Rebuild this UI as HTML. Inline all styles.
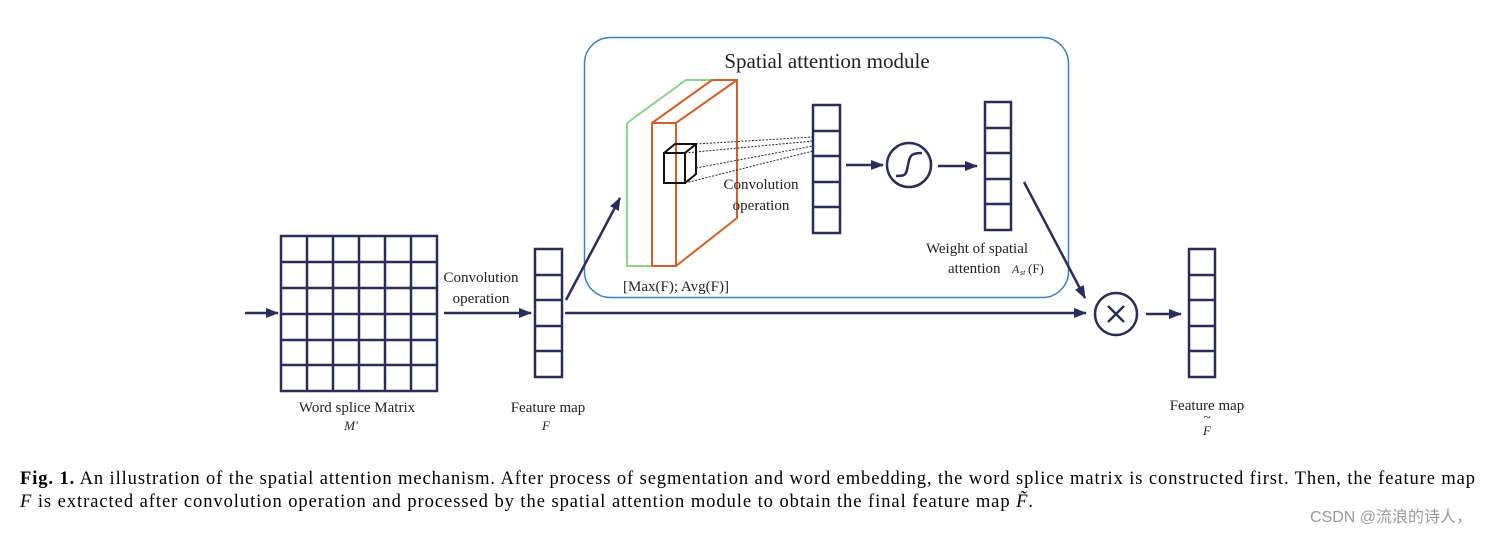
<!DOCTYPE html>
<html><head><meta charset="utf-8"><style>
html,body{margin:0;padding:0;background:#fff;width:1510px;height:536px;overflow:hidden}
svg{display:block}
</style></head><body>
<svg width="1510" height="536" viewBox="0 0 1510 536" xmlns="http://www.w3.org/2000/svg">
<defs>
<marker id="ah" markerWidth="13" markerHeight="10" refX="12" refY="5" orient="auto" markerUnits="userSpaceOnUse">
<path d="M0,0 L13,5 L0,10 z" fill="#2a2d5a"/></marker>
</defs>
<g font-family="Liberation Serif, serif" fill="#222">
<rect x="584.5" y="37.5" width="484" height="260" rx="26" fill="none" stroke="#3a7fc0" stroke-width="1.5"/>
<text x="827" y="68" font-size="21" text-anchor="middle">Spatial attention module</text>

<g stroke="#2a2d5a" stroke-width="2.5" fill="none">
<rect x="281" y="236" width="156" height="155"/>
<line x1="307" y1="236" x2="307" y2="391"/><line x1="333" y1="236" x2="333" y2="391"/><line x1="359" y1="236" x2="359" y2="391"/><line x1="385" y1="236" x2="385" y2="391"/><line x1="411" y1="236" x2="411" y2="391"/>
<line x1="281" y1="262" x2="437" y2="262"/><line x1="281" y1="288" x2="437" y2="288"/><line x1="281" y1="314" x2="437" y2="314"/><line x1="281" y1="340" x2="437" y2="340"/><line x1="281" y1="365" x2="437" y2="365"/>
<rect x="535" y="249" width="27" height="128"/>
<line x1="535" y1="275" x2="562" y2="275"/><line x1="535" y1="300" x2="562" y2="300"/><line x1="535" y1="326" x2="562" y2="326"/><line x1="535" y1="351" x2="562" y2="351"/>
<rect x="813" y="105" width="27" height="128"/>
<line x1="813" y1="131" x2="840" y2="131"/><line x1="813" y1="156" x2="840" y2="156"/><line x1="813" y1="182" x2="840" y2="182"/><line x1="813" y1="207" x2="840" y2="207"/>
<rect x="985" y="102" width="26" height="128"/>
<line x1="985" y1="128" x2="1011" y2="128"/><line x1="985" y1="153" x2="1011" y2="153"/><line x1="985" y1="179" x2="1011" y2="179"/><line x1="985" y1="204" x2="1011" y2="204"/>
<rect x="1189" y="249" width="26" height="128"/>
<line x1="1189" y1="275" x2="1215" y2="275"/><line x1="1189" y1="300" x2="1215" y2="300"/><line x1="1189" y1="326" x2="1215" y2="326"/><line x1="1189" y1="351" x2="1215" y2="351"/>

<line x1="245" y1="313" x2="278" y2="313" marker-end="url(#ah)"/>
<line x1="444" y1="313" x2="531" y2="313" marker-end="url(#ah)"/>
<line x1="565" y1="313" x2="1086" y2="313" marker-end="url(#ah)"/>
<line x1="566" y1="300" x2="620" y2="198" marker-end="url(#ah)"/>
<line x1="846" y1="165" x2="883" y2="165" marker-end="url(#ah)"/>
<line x1="938" y1="166" x2="977" y2="166" marker-end="url(#ah)"/>
<line x1="1024" y1="182" x2="1085" y2="298" marker-end="url(#ah)"/>
<line x1="1146" y1="314" x2="1181" y2="314" marker-end="url(#ah)"/>
<circle cx="909" cy="165" r="22"/>
<path d="M896,176 C906,176 906,175 908,165 C910,155 911,153 922,153"/>
<circle cx="1116" cy="314" r="21"/>
<line x1="1108" y1="306" x2="1124" y2="322"/><line x1="1124" y1="306" x2="1108" y2="322"/>
</g>

<g fill="none" stroke-width="2">
<path d="M627,123 L686,80 L712,80 M627,123 L627,266 L651,266" stroke="#8fd08a"/>
<path d="M652,123 L712,80 L737,80 L737,218 L676,266 L652,266 Z M652,123 L676,123 L737,80 M676,123 L676,266" stroke="#d0602a"/>
</g>
<g fill="none" stroke="#111" stroke-width="2">
<rect x="664" y="153" width="21" height="30"/>
<path d="M664,153 L675,144 L696,144 L696,174 L685,183 M685,153 L696,144"/>
</g>
<g stroke="#222" stroke-width="1" stroke-dasharray="2,1.5" fill="none">
<line x1="696" y1="144" x2="813" y2="137"/>
<line x1="685" y1="153" x2="813" y2="141"/>
<line x1="696" y1="168" x2="813" y2="146"/>
<line x1="685" y1="183" x2="813" y2="151"/>
</g>

<g font-size="15">
<text x="761" y="189" text-anchor="middle">Convolution</text>
<text x="761" y="210" text-anchor="middle">operation</text>
<text x="481" y="282" text-anchor="middle">Convolution</text>
<text x="481" y="303" text-anchor="middle">operation</text>
<text x="676" y="291" text-anchor="middle">[Max(F); Avg(F)]</text>
<text x="977" y="253" text-anchor="middle">Weight of spatial</text>
<text x="948" y="273">attention</text>
<text x="1012" y="273" font-size="12" font-style="italic">A</text><text x="1020" y="275" font-size="8" font-style="italic">st</text><text x="1028" y="273" font-size="13">(F)</text>
<text x="357" y="412" text-anchor="middle">Word splice Matrix</text>
<text x="548" y="412" text-anchor="middle">Feature map</text>
<text x="1207" y="410" text-anchor="middle">Feature map</text>
</g>
<g font-size="13" font-style="italic">
<text x="351" y="430" text-anchor="middle">M'</text>
<text x="546" y="430" text-anchor="middle">F</text>
<text x="1207" y="435" text-anchor="middle">F</text>
<text x="1207" y="421" text-anchor="middle">~</text>
</g>

<g font-size="18.5" fill="#000">
<text x="20" y="484" textLength="1455" lengthAdjust="spacing"><tspan font-weight="bold">Fig. 1.</tspan>  An illustration of the spatial attention mechanism. After process of segmentation and word embedding, the word splice matrix is constructed first. Then, the feature map</text>
<text x="20" y="507" textLength="1013" lengthAdjust="spacing"><tspan font-style="italic">F</tspan> is extracted after convolution operation and processed by the spatial attention module to obtain the final feature map <tspan font-style="italic">F̃</tspan>.</text>
</g>
<text x="1310" y="522" font-family="Liberation Sans, Noto Sans CJK SC, sans-serif" font-size="16" fill="#999">CSDN @流浪的诗人，</text>
</g>
</svg>
</body></html>
